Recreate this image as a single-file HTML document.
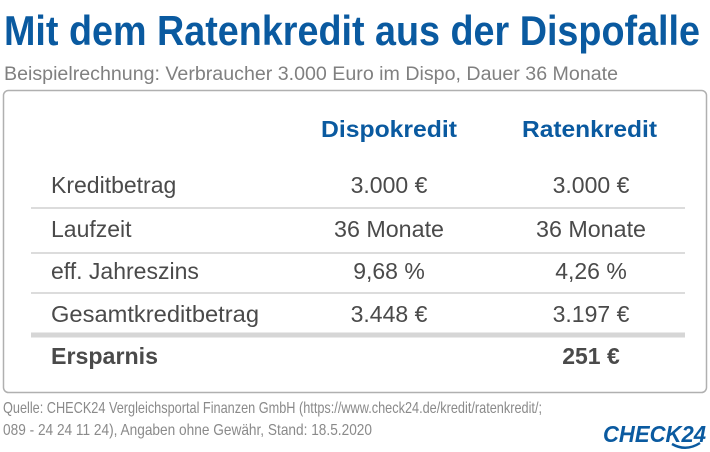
<!DOCTYPE html>
<html><head><meta charset="utf-8"><style>
html,body{margin:0;padding:0;background:#fff;width:710px;height:452px;overflow:hidden}
svg{display:block}
text{font-family:"Liberation Sans",sans-serif}
</style></head><body>
<svg width="710" height="452" viewBox="0 0 710 452">
<text x="4" y="45" font-size="42" font-weight="bold" fill="#0a5aa0" textLength="696" lengthAdjust="spacingAndGlyphs">Mit dem Ratenkredit aus der Dispofalle</text>
<text x="4" y="80" font-size="19" fill="#808080" textLength="614" lengthAdjust="spacingAndGlyphs">Beispielrechnung: Verbraucher 3.000 Euro im Dispo, Dauer 36 Monate</text>
<rect x="3.5" y="90.5" width="703" height="302" rx="5" fill="none" stroke="#b0b0b0" stroke-width="1.5"/>
<text x="321" y="137" font-size="23" font-weight="bold" fill="#0a5aa0" textLength="136" lengthAdjust="spacingAndGlyphs">Dispokredit</text>
<text x="522" y="137" font-size="23" font-weight="bold" fill="#0a5aa0" textLength="135" lengthAdjust="spacingAndGlyphs">Ratenkredit</text>
<g font-size="23" fill="#4a4a4a">
<text x="51" y="193">Kreditbetrag</text>
<text x="389" y="193" text-anchor="middle">3.000 €</text>
<text x="591" y="193" text-anchor="middle">3.000 €</text>
<text x="51" y="237">Laufzeit</text>
<text x="389" y="237" text-anchor="middle" textLength="110" lengthAdjust="spacingAndGlyphs">36 Monate</text>
<text x="591" y="237" text-anchor="middle" textLength="110" lengthAdjust="spacingAndGlyphs">36 Monate</text>
<text x="51" y="279">eff. Jahreszins</text>
<text x="389" y="279" text-anchor="middle">9,68 %</text>
<text x="591" y="279" text-anchor="middle">4,26 %</text>
<text x="51" y="322" textLength="208" lengthAdjust="spacingAndGlyphs">Gesamtkreditbetrag</text>
<text x="389" y="322" text-anchor="middle">3.448 €</text>
<text x="591" y="322" text-anchor="middle">3.197 €</text>
</g>
<g stroke="#dcdcdc" stroke-width="2">
<line x1="31" y1="208" x2="685" y2="208"/>
<line x1="31" y1="253" x2="685" y2="253"/>
<line x1="31" y1="293" x2="685" y2="293"/>
</g>
<line x1="31" y1="335" x2="685" y2="335" stroke="#d6d6d6" stroke-width="5"/>
<text x="51" y="364" font-size="23" font-weight="bold" fill="#4a4a4a" textLength="107" lengthAdjust="spacingAndGlyphs">Ersparnis</text>
<text x="591" y="364" font-size="23" font-weight="bold" fill="#4a4a4a" text-anchor="middle">251 €</text>
<text x="3" y="413" font-size="16" fill="#8a8a8a" textLength="539" lengthAdjust="spacingAndGlyphs">Quelle: CHECK24 Vergleichsportal Finanzen GmbH (https://www.check24.de/kredit/ratenkredit/;</text>
<text x="3" y="435" font-size="16" fill="#8a8a8a" textLength="369" lengthAdjust="spacingAndGlyphs">089 - 24 24 11 24), Angaben ohne Gewähr, Stand: 18.5.2020</text>
<text x="603" y="442" font-size="23" font-weight="bold" font-style="italic" fill="#0a5aa0" textLength="103" lengthAdjust="spacingAndGlyphs">CHECK24</text>
<path d="M672 444 Q686 452 700 443" stroke="#0a5aa0" stroke-width="2.5" fill="none"/>
</svg>
</body></html>
